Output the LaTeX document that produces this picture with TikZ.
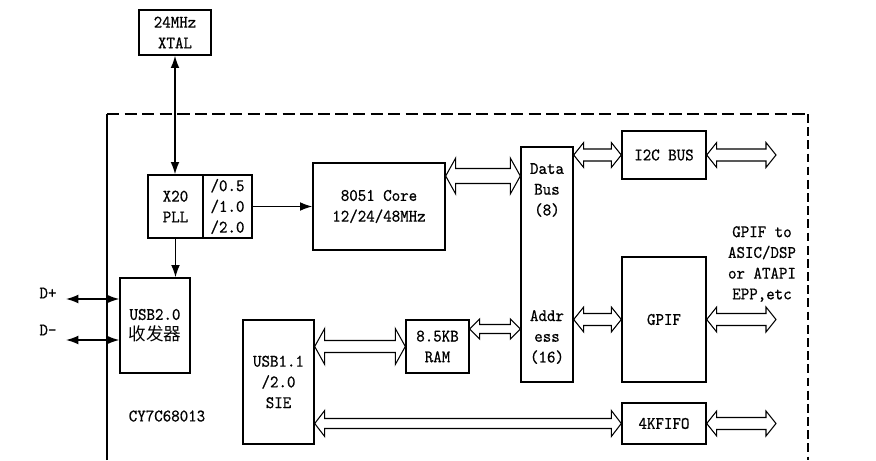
\documentclass[tikz,border=0pt]{standalone}
\usepackage{fontspec}
\setmainfont{Latin Modern Mono}[FakeStretch=0.92, FakeBold=0.6]
\newfontfamily\cjk{Noto Sans CJK SC}
\usepackage{tikz}
\usetikzlibrary{calc}
\usetikzlibrary{arrows.meta}
\tikzset{ blk/.style = {rectangle, draw, line width=0.8pt, align=center, inner sep=0pt, font=\fontsize{10}{11.8}\selectfont} }
\tikzset{ lbl/.style = {align=center, inner sep=0pt, font=\fontsize{10}{11.8}\selectfont} }
\tikzset{ sig/.style = {line width=0.8pt, {Latex[length=7pt,width=5pt]}-{Latex[length=7pt,width=5pt]}} }
\tikzset{ sigone/.style = {line width=0.8pt, -{Latex[length=7pt,width=5pt]}} }
\tikzset{ busline/.style = {line width=0.6pt, fill=white, line join=miter} }
% hollow bus arrow: from, to, shaft half width, head half width
\newcommand{\busarrow}[4]{%
  \draw[busline] (#1) -- ($(#1)+(10,#4)$) -- ($(#1)+(10,#3)$) -- ($(#2)+(-10,#3)$)
    -- ($(#2)+(-10,#4)$) -- (#2) -- ($(#2)+(-10,-#4)$) -- ($(#2)+(-10,-#3)$)
    -- ($(#1)+(10,-#3)$) -- ($(#1)+(10,-#4)$) -- cycle;}

\begin{document}
\begin{tikzpicture}[x=0.02cm, y=-0.02cm]
    \useasboundingbox[fill=white] (0,0) rectangle (876,460);
    % chip outline
    \draw[line width=0.8pt] (107,460) -- (107,114);
    \draw[line width=0.8pt, dash pattern=on 7pt off 3pt] (107,114) -- (808,114);
    \draw[line width=1.3pt, dash pattern=on 5pt off 2.5pt] (808,114) -- (808,460);

    \node[blk, minimum width=1.44cm, minimum height=0.9cm] (xtal) at (175,32.5) {24MHz\\XTAL};
    \node[blk, minimum width=1.1cm, minimum height=1.26cm] (pll) at (175.5,206.5) {X20\\PLL};
    \node[blk, minimum width=0.98cm, minimum height=1.26cm] (div) at (227.5,206.5) {/0.5\\/1.0\\/2.0};
    \node[blk, minimum width=2.64cm, minimum height=1.74cm] (core) at (379,206.5) {8051 Core\\12/24/48MHz};
    \node[blk, minimum width=1.4cm, minimum height=1.9cm] (usbx) at (155,325.5) {USB2.0\\{\cjk 收发器}};
    \node[blk, minimum width=1.42cm, minimum height=2.48cm] (sie) at (278.5,382) {USB1.1\\/2.0\\SIE};
    \node[blk, minimum width=1.26cm, minimum height=1.06cm] (ram) at (437.5,346.5) {8.5KB\\RAM};
    \node[blk, minimum width=1.04cm, minimum height=4.7cm] (bus) at (547,264.5) {};
    \node[lbl] (databus) at (547,190) {Data\\Bus\\(8)};
    \node[lbl] (addrbus) at (547,337) {Addr\\ess\\(16)};
    \node[blk, minimum width=1.68cm, minimum height=0.96cm] (i2c) at (664,155) {I2C BUS};
    \node[blk, minimum width=1.68cm, minimum height=2.5cm] (gpif) at (664,319.5) {GPIF};
    \node[blk, minimum width=1.68cm, minimum height=0.82cm] (fifo) at (664,423.5) {4KFIFO};

    \node[lbl] (dplus) at (48,293) {D+};
    \node[lbl] (dminus) at (48,330) {D-};
    \node[lbl] (chip) at (167,416) {CY7C68013};
    \node[lbl] (gpiftxt) at (762,264) {GPIF to\\ASIC/DSP\\or ATAPI\\EPP,etc};

    \coordinate (dp) at (66,299);
    \coordinate (dm) at (66,340);
    \coordinate (ycore) at (0,176);
    \coordinate (yram) at (0,329);
    \coordinate (i2cout) at (776,155);
    \coordinate (gpifout) at (776,319.5);
    \coordinate (fifoout) at (776,423.5);

    % clock and usb signals
    \draw[sig] (xtal.south) -- (xtal.south |- pll.north);
    \draw[sigone] (div) -- (core);
    \draw[sigone] (pll.south) -- (pll.south |- usbx.north);
    \draw[sig] (dp) -- (dp -| usbx.west);
    \draw[sig] (dm) -- (dm -| usbx.west);

    % buses
    \busarrow{core.east |- ycore}{bus.west |- ycore}{7.5}{18}
    \busarrow{sie.east |- ram}{ram.west}{6}{18}
    \busarrow{ram.east |- yram}{bus.west |- yram}{4.5}{10}
    \busarrow{bus.east |- i2c}{i2c.west}{6}{12.5}
    \busarrow{bus.east |- gpif}{gpif.west}{6}{12.5}
    \busarrow{sie.east |- fifo}{fifo.west}{5}{13}
    \busarrow{i2c.east}{i2cout}{6}{12.5}
    \busarrow{gpif.east}{gpifout}{6}{12.5}
    \busarrow{fifo.east}{fifoout}{6}{12.5}
\end{tikzpicture}
\end{document}
